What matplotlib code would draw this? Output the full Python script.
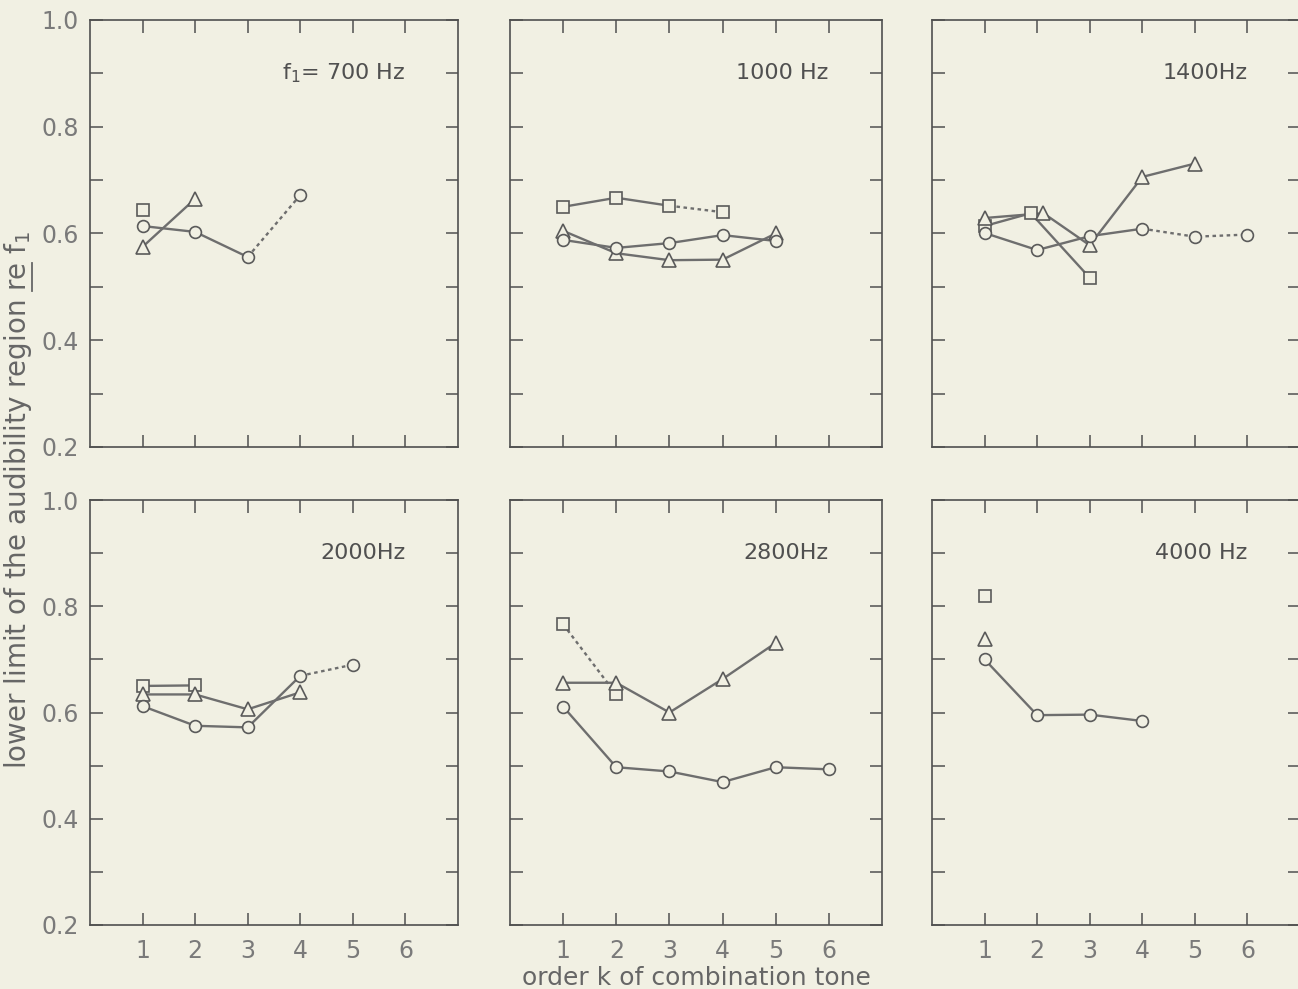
import matplotlib
matplotlib.use("Agg")
import matplotlib.pyplot as plt
from matplotlib.lines import Line2D

# panel titles (f1)
labels = ["f$_1$= 700 Hz", "1000 Hz", "1400Hz", "2000Hz", "2800Hz", "4000 Hz"]

# lower limit re f1, one list per panel (k = 1, 2, 3 ...)
circles = [
    [0.614, 0.603, 0.556, 0.672],
    [0.588, 0.573, 0.582, 0.597, 0.586],
    [0.601, 0.569, 0.595, 0.609, 0.594, 0.598],
    [0.612, 0.575, 0.572, 0.669, 0.690],
    [0.611, 0.497, 0.489, 0.469, 0.497, 0.493],
    [0.700, 0.595, 0.596, 0.584],
]
triangles = [
    [0.575, 0.665],
    [0.605, 0.563, 0.550, 0.551, 0.600],
    [0.629, 0.638, 0.578, 0.706, 0.731],
    [0.634, 0.634, 0.606, 0.638],
    [0.656, 0.656, 0.600, 0.663, 0.731],
    [0.738],
]
squares = [
    [0.644],
    [0.650, 0.667, 0.652, 0.640],
    [0.614, 0.638, 0.517],
    [0.650, 0.651],
    [0.766, 0.634],
    [0.819],
]
# how many points are joined by a solid line; the rest is dotted
circ_solid = [3, 5, 4, 4, 6, 4]
tri_solid = [2, 5, 5, 4, 5, 1]
sq_solid = [1, 3, 3, 2, 1, 1]

# at 1400 Hz the k=2 symbols are pushed apart in the original
sq_k_1400 = [1, 1.88, 3]
tri_k_1400 = [1, 2.12, 3, 4, 5]

bg = "#f1f0e3"
ink = "#6e6e6e"
axcol = "#505050"

W, H = 1298, 989
fig = plt.figure(figsize=(W / 100, H / 100), dpi=100, facecolor=bg)

col_x = [90, 510, 932]
col_w = [368, 372, 368]
row_y = [(20, 447), (500, 925)]


def draw_series(ax, ks, vals, nsolid, marker, ms):
    kw = dict(color=ink, lw=1.7, zorder=2)
    ax.plot(ks[:nsolid], vals[:nsolid], **kw)
    if nsolid < len(vals):
        ax.plot(ks[nsolid - 1:], vals[nsolid - 1:], linestyle=(0, (1.5, 1.5)), **kw)
    ax.plot(ks, vals, linestyle="none", marker=marker, ms=ms, mfc=bg,
            mec="#5a5a5a", mew=1.2, zorder=3)


for i in range(6):
    r, c = divmod(i, 3)
    top, bot = row_y[r]
    ax = fig.add_axes([col_x[c] / W, (H - bot) / H, col_w[c] / W, (bot - top) / H])
    ax.set_facecolor(bg)
    ax.set_xlim(0, 7)
    ax.set_ylim(0.2, 1.0)

    ck = list(range(1, len(circles[i]) + 1))
    tk = list(range(1, len(triangles[i]) + 1))
    sk = list(range(1, len(squares[i]) + 1))
    if i == 2:
        tk = tri_k_1400
        sk = sq_k_1400
    draw_series(ax, sk, squares[i], sq_solid[i], "s", 8)
    draw_series(ax, tk, triangles[i], tri_solid[i], "^", 10)
    draw_series(ax, ck, circles[i], circ_solid[i], "o", 8.5)

    ax.text(6.0, 0.9, labels[i], ha="right", va="center", fontsize=16, color="#505050")

    ax.set_xticks([1, 2, 3, 4, 5, 6])
    yt = [0.2, 0.3, 0.4, 0.5, 0.6, 0.7, 0.8, 0.9, 1.0]
    ax.set_yticks(yt)
    ax.tick_params(direction="in", length=9, width=1.1, color=axcol,
                   top=True, right=True, labelsize=17, labelcolor="#7a7a7a")
    ax.tick_params(axis="x", pad=10)
    ax.tick_params(axis="y", pad=8)
    if c == 0:
        ax.set_yticklabels(["%.1f" % v if round(v * 10) % 2 == 0 else "" for v in yt])
    else:
        ax.set_yticklabels([])
    if r == 0:
        ax.set_xticklabels([])
    for s in ax.spines.values():
        s.set_color(axcol)
        s.set_linewidth(1.2)

fig.text(696 / W, 1 - 978 / H, "order k of combination tone", ha="center", va="center",
         fontsize=18, color="#666666")

pre = "lower limit of the audibility region "
yl = fig.text(18 / W, 1 - 500 / H, pre + "re f$_1$",
              rotation=90, ha="center", va="center", fontsize=20, color="#666666")

# underline under "re", as in the original label
rend = fig.canvas.get_renderer()
bb = yl.get_window_extent(rend)
w_pre = rend.get_text_width_height_descent(pre, yl.get_fontproperties(), ismath=False)[0]
w_re = rend.get_text_width_height_descent("re", yl.get_fontproperties(), ismath=False)[0]
ux = bb.x1 - 2
fig.add_artist(Line2D([ux / W, ux / W], [(bb.y0 + w_pre) / H, (bb.y0 + w_pre + w_re) / H],
                      transform=fig.transFigure, color="#666666", lw=1.3))

fig.savefig("out.png", dpi=100, facecolor=bg)
